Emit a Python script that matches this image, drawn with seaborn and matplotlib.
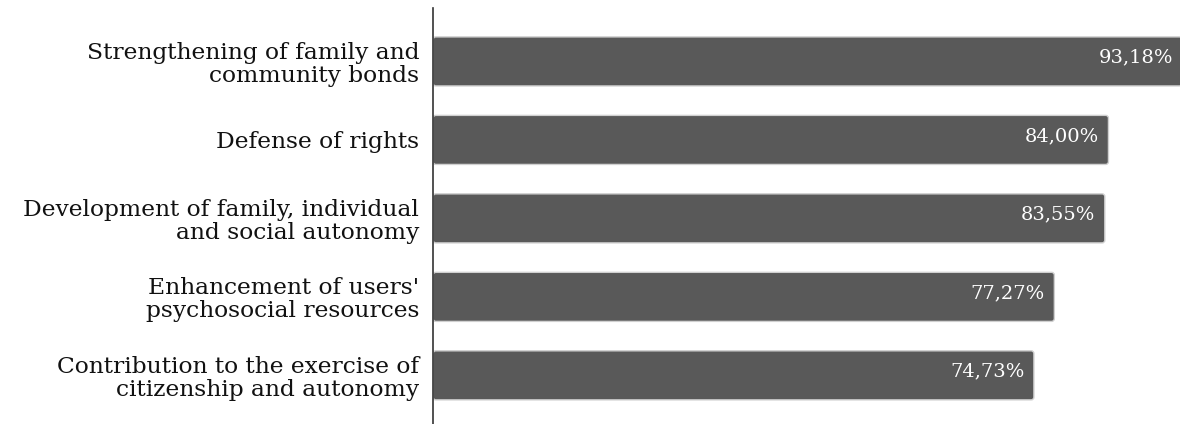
import matplotlib
matplotlib.use("Agg")
import matplotlib.pyplot as plt
import seaborn as sns
import pandas as pd
from matplotlib.patches import FancyBboxPatch

categories = [
    "Strengthening of family and\ncommunity bonds",
    "Defense of rights",
    "Development of family, individual\nand social autonomy",
    "Enhancement of users'\npsychosocial resources",
    "Contribution to the exercise of\ncitizenship and autonomy",
]
values = [93.18, 84.00, 83.55, 77.27, 74.73]
value_labels = ["93,18%", "84,00%", "83,55%", "77,27%", "74,73%"]

sns.set_theme(style="white")
plt.rcParams["font.family"] = ["DejaVu Serif"]

df = pd.DataFrame({"category": categories, "value": values})

fig = plt.figure(figsize=(11.8, 4.24), dpi=100)
ax = fig.add_axes([0.367, 0.0, 0.633, 0.981])

sns.barplot(data=df, x="value", y="category", orient="h", color="#595959",
            saturation=1, width=0.625, edgecolor="#d0d0d0", linewidth=1, ax=ax)

ax.set_xlim(0, 92.9)
ax.set_ylim(4.62, -0.68)

# swap the square bars for slightly rounded ones
bars = list(ax.patches)
for patch in bars:
    x0, y0 = patch.get_x(), patch.get_y()
    w, h = patch.get_width(), patch.get_height()
    patch.set_visible(False)
    rounded = FancyBboxPatch((x0, y0), w, h,
                             boxstyle="round,pad=0,rounding_size=0.35",
                             mutation_aspect=0.1,
                             facecolor="#595959", edgecolor="#d0d0d0",
                             linewidth=1, clip_on=True)
    ax.add_patch(rounded)

for patch, label in zip(bars, value_labels):
    y = patch.get_y() + patch.get_height() / 2
    x = patch.get_x() + patch.get_width()
    ax.text(x - 1.15, y - 0.05, label, ha="right", va="center",
            color="white", fontsize=14)

ax.set_xlabel("")
ax.set_ylabel("")
ax.set_xticks([])
ax.tick_params(axis="y", length=0, pad=10, labelsize=16.8, colors="#111111")
for lbl in ax.get_yticklabels():
    lbl.set_linespacing(1.05)
for side in ["top", "right", "bottom"]:
    ax.spines[side].set_visible(False)
ax.spines["left"].set_color("#333333")
ax.spines["left"].set_linewidth(1.2)

fig.savefig("out.png", dpi=100, facecolor="white")
